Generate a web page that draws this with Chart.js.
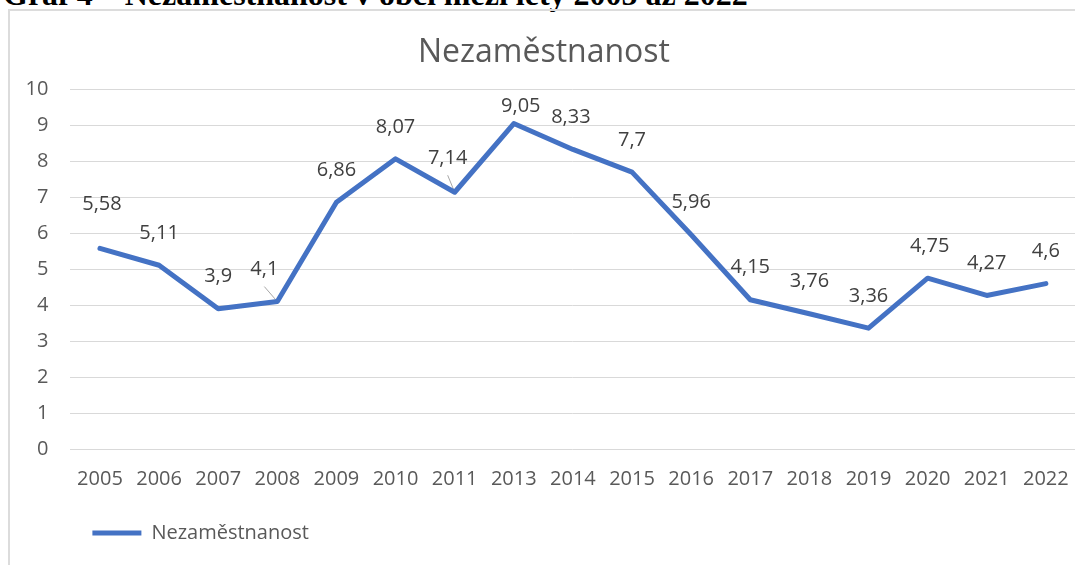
<!DOCTYPE html>
<html lang="cs">
<head>
<meta charset="UTF-8">
<title>Nezaměstnanost</title>
<style>
    html, body { margin: 0; padding: 0; background: #fff; overflow: hidden; }
    body { width: 1075px; height: 565px; position: relative; }
    .caption {
        position: absolute; left: 3px; top: -22px;
        font: bold 32px "Liberation Serif", "Times New Roman", serif;
        line-height: 32px; color: #000; white-space: nowrap;
    }
    .frame {
        position: absolute; left: 8px; top: 9px; width: 1100px; height: 600px;
        border-left: 2px solid #dcdcdc; border-top: 2px solid #dcdcdc;
        overflow: hidden;
    }
    canvas { display: block; }
</style>
</head>
<body>
<div class="caption">Graf 4 – Nezaměstnanost v obci mezi lety 2005 až 2022</div>
<div class="frame">
    <canvas id="chart" width="1077" height="542"></canvas>
</div>

<script src="https://cdn.jsdelivr.net/npm/chart.js"></script>
<script>
// data
const years = ['2005', '2006', '2007', '2008', '2009', '2010', '2011', '2013', '2014',
               '2015', '2016', '2017', '2018', '2019', '2020', '2021', '2022'];
const unemployment = [5.58, 5.11, 3.9, 4.1, 6.86, 8.07, 7.14, 9.05, 8.33,
                      7.7, 5.96, 4.15, 3.76, 3.36, 4.75, 4.27, 4.6];
const seriesName = 'Nezaměstnanost';

// a few labels were moved by hand in the original (dx, dy in px)
const labelShift = {0: [2, -12], 3: [-13, 0], 6: [-7, -2], 7: [7, 15], 8: [-2, 0], 14: [2, 0]};
const withLeader = [3, 6];

const FONT = '"Open Sans", "DejaVu Sans", sans-serif';

function labelPos(pt, i) {
    const s = labelShift[i] || [0, 0];
    return { x: pt.x + s[0], y: pt.y - 32 + s[1] };
}

const dataLabels = {
    id: 'dataLabels',
    beforeDatasetsDraw(chart) {
        // leader lines go under the series line
        const ctx = chart.ctx;
        const meta = chart.getDatasetMeta(0);
        ctx.save();
        ctx.strokeStyle = '#a6a6a6';
        ctx.lineWidth = 1;
        withLeader.forEach(i => {
            const pt = meta.data[i];
            const p = labelPos(pt, i);
            ctx.beginPath();
            ctx.moveTo(p.x, p.y + 17);
            ctx.lineTo(pt.x, pt.y);
            ctx.stroke();
        });
        ctx.restore();
    },
    afterDatasetsDraw(chart) {
        const ctx = chart.ctx;
        const meta = chart.getDatasetMeta(0);
        ctx.save();
        ctx.font = '20px ' + FONT;
        ctx.fillStyle = '#404040';
        ctx.textAlign = 'center';
        ctx.textBaseline = 'middle';
        meta.data.forEach((pt, i) => {
            const p = labelPos(pt, i);
            ctx.fillText(String(unemployment[i]).replace('.', ','), p.x, p.y);
        });
        ctx.restore();
    }
};

new Chart(document.getElementById('chart'), {
    type: 'line',
    data: {
        labels: years,
        datasets: [{
            label: seriesName,
            data: unemployment,
            borderColor: '#4472C4',
            backgroundColor: '#4472C4',
            borderWidth: 5,
            borderCapStyle: 'round',
            borderJoinStyle: 'round',
            pointRadius: 0,
            pointHoverRadius: 0,
            tension: 0,
            fill: false
        }]
    },
    options: {
        responsive: false,
        animation: false,
        devicePixelRatio: 1,
        layout: { padding: { left: 0, right: 9, top: 0, bottom: 0 } },
        plugins: {
            title: {
                display: true,
                text: seriesName,
                color: '#595959',
                font: { family: FONT, size: 32, weight: 'normal' },
                padding: { top: 23, bottom: 17 }
            },
            legend: {
                position: 'bottom',
                align: 'start',
                fullSize: false,
                labels: {
                    usePointStyle: true,
                    pointStyle: 'line',
                    pointStyleWidth: 49,
                    padding: 22,
                    color: '#595959',
                    font: { family: FONT, size: 20 }
                }
            },
            tooltip: { enabled: false }
        },
        scales: {
            x: {
                offset: true,
                grid: { display: false, drawTicks: false, offset: true },
                border: { display: false },
                ticks: {
                    color: '#595959',
                    font: { family: FONT, size: 20 },
                    padding: 18,
                    maxRotation: 0,
                    autoSkip: false
                },
                afterFit(scale) { scale.height = 52; }
            },
            y: {
                min: 0,
                max: 10,
                grid: { color: '#d9d9d9', lineWidth: 1, drawTicks: false },
                border: { display: false },
                ticks: {
                    stepSize: 1,
                    color: '#595959',
                    font: { family: FONT, size: 20 },
                    padding: 22
                },
                afterFit(scale) { scale.width = 60.4; }
            }
        }
    },
    plugins: [dataLabels]
});
</script>
</body>
</html>
